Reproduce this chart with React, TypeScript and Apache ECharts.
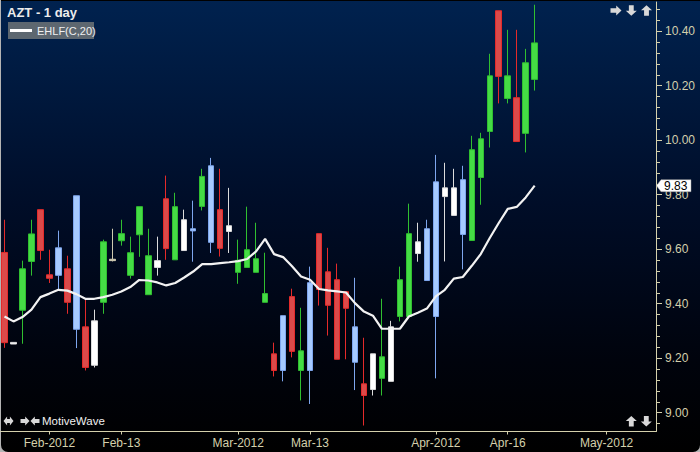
import React, { useEffect, useRef } from "react";
import * as echarts from "echarts";

// ---- data ----
const dates = [
  "2012-01-25", "2012-01-26", "2012-01-27", "2012-01-30", "2012-01-31",
  "2012-02-01", "2012-02-02", "2012-02-03", "2012-02-06", "2012-02-07", "2012-02-08", "2012-02-09", "2012-02-10",
  "2012-02-13", "2012-02-14", "2012-02-15", "2012-02-16", "2012-02-17",
  "2012-02-20", "2012-02-21", "2012-02-22", "2012-02-23", "2012-02-24",
  "2012-02-27", "2012-02-28", "2012-02-29",
  "2012-03-01", "2012-03-02",
  "2012-03-05", "2012-03-06", "2012-03-07", "2012-03-08", "2012-03-09",
  "2012-03-12", "2012-03-13", "2012-03-14", "2012-03-15", "2012-03-16",
  "2012-03-19", "2012-03-20", "2012-03-21", "2012-03-22", "2012-03-23",
  "2012-03-26", "2012-03-27", "2012-03-28", "2012-03-29", "2012-03-30",
  "2012-04-02", "2012-04-03", "2012-04-04", "2012-04-05", "2012-04-09", "2012-04-10", "2012-04-11", "2012-04-12",
  "2012-04-16", "2012-04-17", "2012-04-18", "2012-04-19", "2012-04-20",
  "2012-04-23", "2012-04-24", "2012-04-25", "2012-04-26", "2012-04-27",
  "2012-04-30", "2012-05-01",
  "2012-05-02", "2012-05-03", "2012-05-04",
  "2012-05-07", "2012-05-08",
];

const tickIndexes = [5, 13, 26, 34, 48, 56, 67];
const tickLabels = ["Feb-2012", "Feb-13", "Mar-2012", "Mar-13", "Apr-2012", "Apr-16", "May-2012"];
const priceLabels = [9.0, 9.2, 9.4, 9.6, 9.8, 10.0, 10.2, 10.4];

const opens = [
  9.588, 9.252, 9.376, 9.555, 9.745, 9.506, 9.605, 9.528, 9.796, 9.315,
  9.174, 9.405, 9.558, 9.631, 9.504, 9.653, 9.433, 9.533, 9.785, 9.561,
  9.595, 9.675, 9.757, 9.906, 9.745, 9.665, 9.515, 9.533, 9.515, 9.405,
  9.216, 9.356, 9.426, 9.155, 9.477, 9.657, 9.517, 9.488, 9.444, 9.315,
  9.106, 9.085, 9.126, 9.115, 9.353, 9.353, 9.584, 9.675, 9.847, 9.793,
  9.724, 9.855, 9.632, 9.863, 10.032, 10.475, 10.153, 10.156, 10.025, 10.223,
];
const closes = [
  9.257, 9.258, 9.528, 9.656, 9.595, 9.493, 9.504, 9.405, 9.306, 9.166,
  9.337, 9.627, 9.563, 9.657, 9.587, 9.756, 9.576, 9.558, 9.602, 9.756,
  9.708, 9.667, 9.867, 9.625, 9.603, 9.686, 9.559, 9.598, 9.565, 9.437,
  9.155, 9.155, 9.225, 9.227, 9.155, 9.452, 9.394, 9.196, 9.383, 9.185,
  9.063, 9.216, 9.205, 9.315, 9.488, 9.657, 9.627, 9.485, 9.353, 9.825,
  9.825, 9.654, 9.965, 10.005, 10.236, 10.234, 10.236, 9.995, 10.284, 10.357,
];
const lows = [
  9.238, 9.252, 9.253, 9.503, 9.561, 9.476, 9.451, 9.363, 9.237, 9.155,
  9.166, 9.363, 9.555, 9.613, 9.492, 9.572, 9.433, 9.503, 9.561, 9.561,
  9.595, 9.554, 9.742, 9.586, 9.573, 9.586, 9.473, 9.533, 9.515, 9.405,
  9.133, 9.115, 9.203, 9.045, 9.032, 9.393, 9.283, 9.196, 9.196, 9.083,
  8.953, 9.063, 9.063, 9.115, 9.335, 9.353, 9.554, 9.485, 9.126, 9.555,
  9.724, 9.526, 9.632, 9.763, 9.973, 10.135, 10.135, 9.995, 9.955, 10.182,
];
const highs = [
  9.708, 9.258, 9.558, 9.708, 9.745, 9.598, 9.668, 9.576, 9.796, 9.415,
  9.378, 9.635, 9.675, 9.708, 9.646, 9.756, 9.675, 9.646, 9.870, 9.807,
  9.745, 9.778, 9.895, 9.935, 9.895, 9.825, 9.635, 9.756, 9.697, 9.587,
  9.257, 9.356, 9.455, 9.385, 9.536, 9.657, 9.605, 9.547, 9.444, 9.495,
  9.275, 9.216, 9.418, 9.337, 9.536, 9.767, 9.697, 9.708, 9.946, 9.917,
  9.895, 9.906, 10.016, 10.027, 10.317, 10.475, 10.405, 10.405, 10.335, 10.497,
];
// bar colour classes: R red, G green, B light blue, W white, D pale doji
const barClass = [
  "R", "W", "G", "G", "R", "R", "B", "R", "B", "R",
  "W", "G", "D", "G", "G", "G", "G", "W", "R", "G",
  "W", "B", "G", "B", "R", "W", "G", "G", "G", "G",
  "R", "B", "R", "G", "B", "R", "R", "R", "R", "B",
  "R", "W", "G", "W", "G", "G", "W", "B", "B", "W",
  "W", "B", "G", "G", "G", "R", "G", "R", "G", "G",
];
const ehlf = [
  9.353, 9.335, 9.351, 9.378, 9.424, 9.437, 9.451, 9.448, 9.435, 9.418,
  9.418, 9.424, 9.433, 9.445, 9.461, 9.487, 9.485, 9.478, 9.467, 9.476,
  9.496, 9.518, 9.545, 9.545, 9.549, 9.552, 9.556, 9.564, 9.592, 9.638,
  9.582, 9.571, 9.537, 9.500, 9.488, 9.454, 9.449, 9.445, 9.441, 9.402,
  9.371, 9.356, 9.308, 9.308, 9.308, 9.353, 9.367, 9.382, 9.427, 9.451,
  9.492, 9.498, 9.539, 9.582, 9.641, 9.696, 9.748, 9.755, 9.790, 9.833,
];

const palette: Record<string, { fill: string; edge: string }> = {
  R: { fill: "#db4a4a", edge: "#e52a2a" },
  G: { fill: "#45dc45", edge: "#30bf30" },
  B: { fill: "#a6caff", edge: "#7ea6ee" },
  W: { fill: "#ffffff", edge: "#dcdcdc" },
  D: { fill: "#e4e0c8", edge: "#cfcab0" },
};

const FONT = "'Liberation Sans', Arial, sans-serif";
const AXIS = "#d4d0ac";

function arrowPoints(cx: number, cy: number, angleDeg: number, w: number, h: number) {
  const s = h * 0.22;
  const hx = w * 0.02;
  const base = [
    [-w / 2, -s], [hx, -s], [hx, -h / 2], [w / 2, 0],
    [hx, h / 2], [hx, s], [-w / 2, s],
  ];
  const a = (angleDeg * Math.PI) / 180;
  return base.map(([x, y]) => [cx + x * Math.cos(a) - y * Math.sin(a), cy + x * Math.sin(a) + y * Math.cos(a)]);
}
function doubleArrowPoints(cx: number, cy: number, w: number, h: number) {
  const hw = w * 0.36;
  const s = h * 0.22;
  return [
    [cx - w / 2, cy], [cx - w / 2 + hw, cy - h / 2], [cx - w / 2 + hw, cy - s],
    [cx + w / 2 - hw, cy - s], [cx + w / 2 - hw, cy - h / 2], [cx + w / 2, cy],
    [cx + w / 2 - hw, cy + h / 2], [cx + w / 2 - hw, cy + s],
    [cx - w / 2 + hw, cy + s], [cx - w / 2 + hw, cy + h / 2],
  ];
}

export default function App() {
  const ref = useRef<HTMLDivElement>(null);
  useEffect(() => {
    if (!ref.current) return;
    const chart = echarts.init(ref.current, null, { renderer: "svg" });

    const minorTicks: number[] = [];
    for (let k = 0; k < 40; k++) {
      const v = Math.round((8.96 + k * 0.04) * 100) / 100;
      if (v <= 10.5) minorTicks.push(v);
    }

    const candleData = opens.map((o, i) => {
      const p = palette[barClass[i]];
      return {
        value: [o, closes[i], lows[i], highs[i]],
        itemStyle: { color: p.fill, color0: p.fill, borderColor: p.edge, borderColor0: p.edge, borderWidth: 1 },
      };
    });

    const yMin = 8.931;
    const yMax = 10.507;

    chart.setOption({
      animation: false,
      backgroundColor: "#b4b4b4",
      grid: { left: -1.6, right: 44, top: 2, bottom: 20.5, containLabel: false },
      xAxis: {
        type: "category",
        data: dates,
        boundaryGap: true,
        axisLine: { show: true, lineStyle: { color: AXIS, width: 1 } },
        axisTick: {
          show: true,
          alignWithLabel: true,
          length: 3,
          interval: (idx: number) => tickIndexes.indexOf(idx) >= 0,
          lineStyle: { color: AXIS },
        },
        axisLabel: {
          interval: (idx: number) => tickIndexes.indexOf(idx) >= 0,
          formatter: (_v: string, idx: number) => {
            const k = tickIndexes.indexOf(idx);
            return k >= 0 ? tickLabels[k] : "";
          },
          color: AXIS,
          fontSize: 12,
          fontFamily: FONT,
          margin: 5,
        },
        splitLine: { show: false },
      },
      yAxis: [
        {
          type: "value",
          position: "right",
          min: yMin,
          max: yMax,
          scale: true,
          splitLine: { show: false },
          axisLine: { show: true, lineStyle: { color: AXIS, width: 1 } },
          axisTick: { show: true, length: 4, customValues: minorTicks, lineStyle: { color: AXIS } },
          axisLabel: {
            customValues: priceLabels,
            formatter: (v: number) => v.toFixed(2),
            color: AXIS,
            fontSize: 12,
            fontFamily: FONT,
            margin: 9,
          },
        },
        {
          type: "value",
          position: "right",
          min: yMin,
          max: yMax,
          scale: true,
          splitLine: { show: false },
          axisLine: { show: false },
          axisTick: { show: true, length: 6, customValues: priceLabels, lineStyle: { color: AXIS } },
          axisLabel: { show: false },
        },
      ],
      series: [
        {
          type: "candlestick",
          name: "AZT",
          data: candleData,
          barWidth: 6,
          xAxisIndex: 0,
          yAxisIndex: 0,
          z: 2,
        },
        {
          type: "line",
          name: "EHLF(C,20)",
          data: ehlf,
          xAxisIndex: 0,
          yAxisIndex: 0,
          symbol: "none",
          lineStyle: { color: "#f2f2f2", width: 2.2 },
          z: 5,
        },
      ],
    });

    const lastVal = ehlf[ehlf.length - 1];
    const py = chart.convertToPixel({ yAxisIndex: 0 }, lastVal) as number;
    const bg = new echarts.graphic.LinearGradient(0, 0, 0, 1, [
      { offset: 0, color: "#00224f" },
      { offset: 0.45, color: "#000d28" },
      { offset: 0.8, color: "#00030c" },
      { offset: 1, color: "#000000" },
    ]);
    const arrowStyle = { fill: "#d8d8d8" };

    chart.setOption({
      graphic: [
        { type: "rect", z: -100, silent: true, shape: { x: 1, y: 0, width: 699, height: 452, r: [0, 0, 7, 7] }, style: { fill: bg } },
        { type: "line", z: -99, silent: true, shape: { x1: 1, y1: 0.5, x2: 700, y2: 0.5 }, style: { stroke: "#000000", lineWidth: 1 } },
        { type: "text", z: 20, x: 7, y: 6, style: { text: "AZT - 1 day", fill: "#ececec", font: `bold 13px ${FONT}` } },
        { type: "rect", z: 20, shape: { x: 8, y: 22, width: 86, height: 17 }, style: { fill: "#5d6770" } },
        { type: "line", z: 21, shape: { x1: 10, y1: 30.5, x2: 32, y2: 30.5 }, style: { stroke: "#ffffff", lineWidth: 3 } },
        { type: "text", z: 21, x: 37, y: 30.5, style: { text: "EHLF(C,20)", fill: "#f0f0f0", font: `11px ${FONT}`, verticalAlign: "middle" } },
        { type: "polygon", z: 20, shape: { points: [[656.5, py], [661, py - 6], [691, py - 6], [691, py + 6], [661, py + 6]] }, style: { fill: "#ffffff", stroke: "#9a9a9a", lineWidth: 0.5 } },
        { type: "text", z: 21, x: 664, y: py, style: { text: lastVal.toFixed(2), fill: "#000000", font: `12px ${FONT}`, verticalAlign: "middle" } },
        { type: "polygon", z: 20, shape: { points: arrowPoints(616, 10.5, 0, 11, 10) }, style: arrowStyle },
        { type: "polygon", z: 20, shape: { points: arrowPoints(631.3, 10.5, 90, 10.5, 11) }, style: arrowStyle },
        { type: "polygon", z: 20, shape: { points: arrowPoints(646.5, 10.5, -90, 10.5, 11) }, style: arrowStyle },
        { type: "polygon", z: 20, shape: { points: arrowPoints(631.3, 421.3, -90, 10.5, 11) }, style: arrowStyle },
        { type: "polygon", z: 20, shape: { points: arrowPoints(646.3, 421.3, 90, 10.5, 11) }, style: arrowStyle },
        { type: "polygon", z: 20, shape: { points: doubleArrowPoints(8.5, 421, 10, 9) }, style: arrowStyle },
        { type: "polygon", z: 20, shape: { points: arrowPoints(25, 421, 0, 9, 9) }, style: arrowStyle },
        { type: "polygon", z: 20, shape: { points: arrowPoints(35, 421, 180, 9, 9) }, style: arrowStyle },
        { type: "text", z: 20, x: 42, y: 421, style: { text: "MotiveWave", fill: "#f0f0f0", font: `11.5px ${FONT}`, verticalAlign: "middle" } },
      ],
    });

    return () => chart.dispose();
  }, []);

  return (
    <div
      ref={ref}
      style={{ position: "fixed", left: 0, top: 0, width: 700, height: 452 }}
    />
  );
}
